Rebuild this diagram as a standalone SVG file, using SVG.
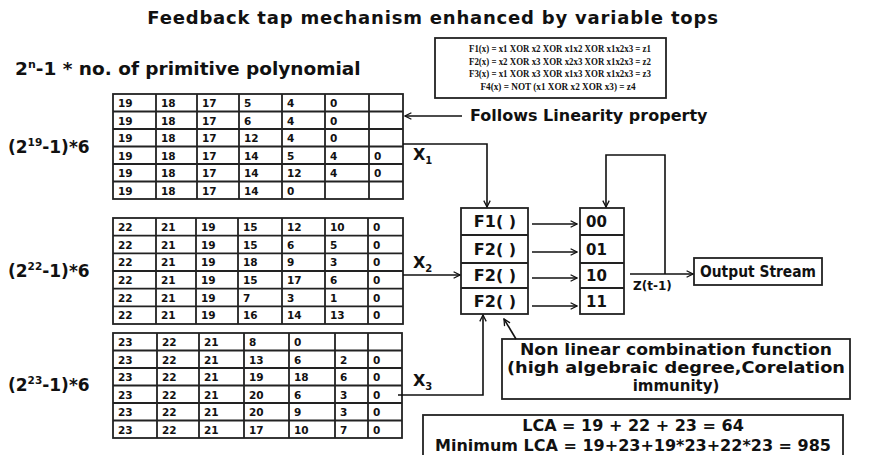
<svg xmlns="http://www.w3.org/2000/svg" width="869" height="455" viewBox="0 0 869 455">
<defs>
<marker id="ah" viewBox="0 0 10 10" refX="9" refY="5" markerWidth="8" markerHeight="8" markerUnits="userSpaceOnUse" orient="auto">
<path d="M1,1 L9,5 L1,9" fill="none" stroke="#111" stroke-width="1.6"/>
</marker>
</defs>
<style>
text{font-family:"DejaVu Sans","Liberation Sans",sans-serif;font-weight:bold;fill:#111}
.t{font-size:18px;letter-spacing:0.8px}
.sub{font-size:18.5px}
.lab{font-size:16px}
.big{font-size:17px}
.reg{font-size:15px}
.nl{font-size:15px}
.cell{font-size:10.5px}
.grid{fill:none;stroke:#222;stroke-width:1.8}
.box{fill:#fff;stroke:#222;stroke-width:1.8}
.fx{font-family:"Liberation Serif","DejaVu Serif",serif;font-size:10px}
.mid{text-anchor:middle}
.con{fill:none;stroke:#111;stroke-width:1.6}
</style>
<rect width="869" height="455" fill="#fff"/>
<text class="t mid" x="433" y="24">Feedback tap mechanism enhanced by variable tops</text>
<text class="sub" x="15" y="75">2<tspan font-size="11" dy="-7">n</tspan><tspan dy="7">-1 * no. of primitive polynomial</tspan></text>

<g id="formulas">
<rect class="box" x="435" y="38" width="231" height="60"/>
<text class="fx mid" x="560" y="52" textLength="182" lengthAdjust="spacingAndGlyphs">F1(x) = x1 XOR x2 XOR x1x2 XOR x1x2x3 = z1</text>
<text class="fx mid" x="560" y="64.5" textLength="182" lengthAdjust="spacingAndGlyphs">F2(x) = x2 XOR x3 XOR x2x3 XOR x1x2x3 = z2</text>
<text class="fx mid" x="560" y="77" textLength="182" lengthAdjust="spacingAndGlyphs">F3(x) = x1 XOR x3 XOR x1x3 XOR x1x2x3 = z3</text>
<text class="fx mid" x="558" y="89.5" textLength="155" lengthAdjust="spacingAndGlyphs">F4(x) = NOT (x1 XOR x2 XOR x3) = z4</text>
</g>

<g id="label1"><text class="big" x="8" y="153">(2<tspan font-size="10.5" dy="-7">19</tspan><tspan dy="7">-1)*6</tspan></text></g>
<g id="label2"><text class="big" x="8" y="277">(2<tspan font-size="10.5" dy="-7">22</tspan><tspan dy="7">-1)*6</tspan></text></g>
<g id="label3"><text class="big" x="8" y="391">(2<tspan font-size="10.5" dy="-7">23</tspan><tspan dy="7">-1)*6</tspan></text></g>

<g id="table1">
<rect class="grid" x="113" y="94" width="290" height="105"/>
<path class="grid" d="M156,94V199M197,94V199M239,94V199M282,94V199M325,94V199M369,94V199M113,111.5H403M113,129H403M113,146.5H403M113,164H403M113,181.5H403"/>
<g class="cell">
<text x="118" y="107">19</text><text x="161" y="107">18</text><text x="202" y="107">17</text><text x="244" y="107">5</text><text x="287" y="107">4</text><text x="330" y="107">0</text>
<text x="118" y="124.5">19</text><text x="161" y="124.5">18</text><text x="202" y="124.5">17</text><text x="244" y="124.5">6</text><text x="287" y="124.5">4</text><text x="330" y="124.5">0</text>
<text x="118" y="142">19</text><text x="161" y="142">18</text><text x="202" y="142">17</text><text x="244" y="142">12</text><text x="287" y="142">4</text><text x="330" y="142">0</text>
<text x="118" y="159.5">19</text><text x="161" y="159.5">18</text><text x="202" y="159.5">17</text><text x="244" y="159.5">14</text><text x="287" y="159.5">5</text><text x="330" y="159.5">4</text><text x="374" y="159.5">0</text>
<text x="118" y="177">19</text><text x="161" y="177">18</text><text x="202" y="177">17</text><text x="244" y="177">14</text><text x="287" y="177">12</text><text x="330" y="177">4</text><text x="374" y="177">0</text>
<text x="118" y="194.5">19</text><text x="161" y="194.5">18</text><text x="202" y="194.5">17</text><text x="244" y="194.5">14</text><text x="287" y="194.5">0</text>
</g>
</g>

<g id="table2">
<rect class="grid" x="113" y="218" width="290" height="106"/>
<path class="grid" d="M156,218V324M196,218V324M238,218V324M282,218V324M325,218V324M368,218V324M113,235.7H403M113,253.3H403M113,271H403M113,288.7H403M113,306.3H403"/>
<g class="cell">
<text x="118" y="231">22</text><text x="161" y="231">21</text><text x="201" y="231">19</text><text x="243" y="231">15</text><text x="287" y="231">12</text><text x="330" y="231">10</text><text x="373" y="231">0</text>
<text x="118" y="248.7">22</text><text x="161" y="248.7">21</text><text x="201" y="248.7">19</text><text x="243" y="248.7">15</text><text x="287" y="248.7">6</text><text x="330" y="248.7">5</text><text x="373" y="248.7">0</text>
<text x="118" y="266.3">22</text><text x="161" y="266.3">21</text><text x="201" y="266.3">19</text><text x="243" y="266.3">18</text><text x="287" y="266.3">9</text><text x="330" y="266.3">3</text><text x="373" y="266.3">0</text>
<text x="118" y="284">22</text><text x="161" y="284">21</text><text x="201" y="284">19</text><text x="243" y="284">15</text><text x="287" y="284">17</text><text x="330" y="284">6</text><text x="373" y="284">0</text>
<text x="118" y="301.7">22</text><text x="161" y="301.7">21</text><text x="201" y="301.7">19</text><text x="243" y="301.7">7</text><text x="287" y="301.7">3</text><text x="330" y="301.7">1</text><text x="373" y="301.7">0</text>
<text x="118" y="319.3">22</text><text x="161" y="319.3">21</text><text x="201" y="319.3">19</text><text x="243" y="319.3">16</text><text x="287" y="319.3">14</text><text x="330" y="319.3">13</text><text x="373" y="319.3">0</text>
</g>
</g>

<g id="table3">
<rect class="grid" x="113" y="333" width="289" height="105"/>
<path class="grid" d="M157,333V438M199,333V438M244,333V438M289,333V438M335,333V438M368,333V438M113,350.5H402M113,368H402M113,385.5H402M113,403H402M113,420.5H402"/>
<g class="cell">
<text x="118" y="346">23</text><text x="162" y="346">22</text><text x="204" y="346">21</text><text x="249" y="346">8</text><text x="294" y="346">0</text>
<text x="118" y="363.5">23</text><text x="162" y="363.5">22</text><text x="204" y="363.5">21</text><text x="249" y="363.5">13</text><text x="294" y="363.5">6</text><text x="340" y="363.5">2</text><text x="373" y="363.5">0</text>
<text x="118" y="381">23</text><text x="162" y="381">22</text><text x="204" y="381">21</text><text x="249" y="381">19</text><text x="294" y="381">18</text><text x="340" y="381">6</text><text x="373" y="381">0</text>
<text x="118" y="398.5">23</text><text x="162" y="398.5">22</text><text x="204" y="398.5">21</text><text x="249" y="398.5">20</text><text x="294" y="398.5">6</text><text x="340" y="398.5">3</text><text x="373" y="398.5">0</text>
<text x="118" y="416">23</text><text x="162" y="416">22</text><text x="204" y="416">21</text><text x="249" y="416">20</text><text x="294" y="416">9</text><text x="340" y="416">3</text><text x="373" y="416">0</text>
<text x="118" y="433.5">23</text><text x="162" y="433.5">22</text><text x="204" y="433.5">21</text><text x="249" y="433.5">17</text><text x="294" y="433.5">10</text><text x="340" y="433.5">7</text><text x="373" y="433.5">0</text>
</g>
</g>

<g id="ffuncs">
<rect class="box" x="461" y="208" width="67" height="106"/>
<path class="grid" d="M461,235H528M461,263H528M461,288H528"/>
<text class="lab mid" x="495" y="227">F1( )</text>
<text class="lab mid" x="495" y="255">F2( )</text>
<text class="lab mid" x="495" y="281">F2( )</text>
<text class="lab mid" x="495" y="307">F2( )</text>
</g>

<g id="register">
<rect class="box" x="580" y="208" width="44" height="106"/>
<path class="grid" d="M580,235H624M580,263H624M580,288H624"/>
<text class="reg" x="586" y="227">00</text>
<text class="reg" x="586" y="255">01</text>
<text class="reg" x="586" y="281">10</text>
<text class="reg" x="586" y="307">11</text>
</g>

<g id="output">
<rect class="box" x="694" y="258" width="128" height="27"/>
<text class="mid" x="758" y="277" style="font-size:15.5px" textLength="116" lengthAdjust="spacingAndGlyphs">Output Stream</text>
</g>

<g id="nonlinear">
<rect class="box" x="502" y="339" width="348" height="60"/>
<text class="nl mid" x="676" y="355" textLength="312" lengthAdjust="spacingAndGlyphs">Non linear combination function</text>
<text class="nl mid" x="676" y="373" textLength="338" lengthAdjust="spacingAndGlyphs">(high algebraic degree,Corelation</text>
<text class="nl mid" x="676" y="391">immunity)</text>
</g>

<g id="lca">
<rect class="box" x="423" y="415" width="420" height="42"/>
<text class="lab mid" x="633" y="431">LCA = 19 + 22 + 23 = 64</text>
<text class="lab mid" x="633" y="451">Minimum LCA = 19+23+19*23+22*23 = 985</text>
</g>

<g id="linearity">
<text class="lab" x="470" y="121">Follows Linearity property</text>
</g>

<g id="xlabels">
<text class="lab" x="413" y="160">X<tspan font-size="10" dy="4">1</tspan></text>
<text class="lab" x="413" y="268">X<tspan font-size="10" dy="4">2</tspan></text>
<text class="lab" x="413" y="386">X<tspan font-size="10" dy="4">3</tspan></text>
<text x="633" y="290" style="font-size:12px">Z(t-1)</text>
</g>

<g id="connectors">
<path class="con" d="M462,116H405" marker-end="url(#ah)"/>
<path class="con" d="M403,144H487V207" marker-end="url(#ah)"/>
<path class="con" d="M403,275H460" marker-end="url(#ah)"/>
<path class="con" d="M398,395H483V315" marker-end="url(#ah)"/>
<path class="con" d="M516,339L504,319" marker-end="url(#ah)"/>
<path class="con" d="M532,224H577" marker-end="url(#ah)"/>
<path class="con" d="M532,252H577" marker-end="url(#ah)"/>
<path class="con" d="M532,278H577" marker-end="url(#ah)"/>
<path class="con" d="M532,306H577" marker-end="url(#ah)"/>
<path class="con" d="M630,274H693" marker-end="url(#ah)"/>
<path class="con" d="M665,274V155H606V207" marker-end="url(#ah)"/>
</g>
</svg>
